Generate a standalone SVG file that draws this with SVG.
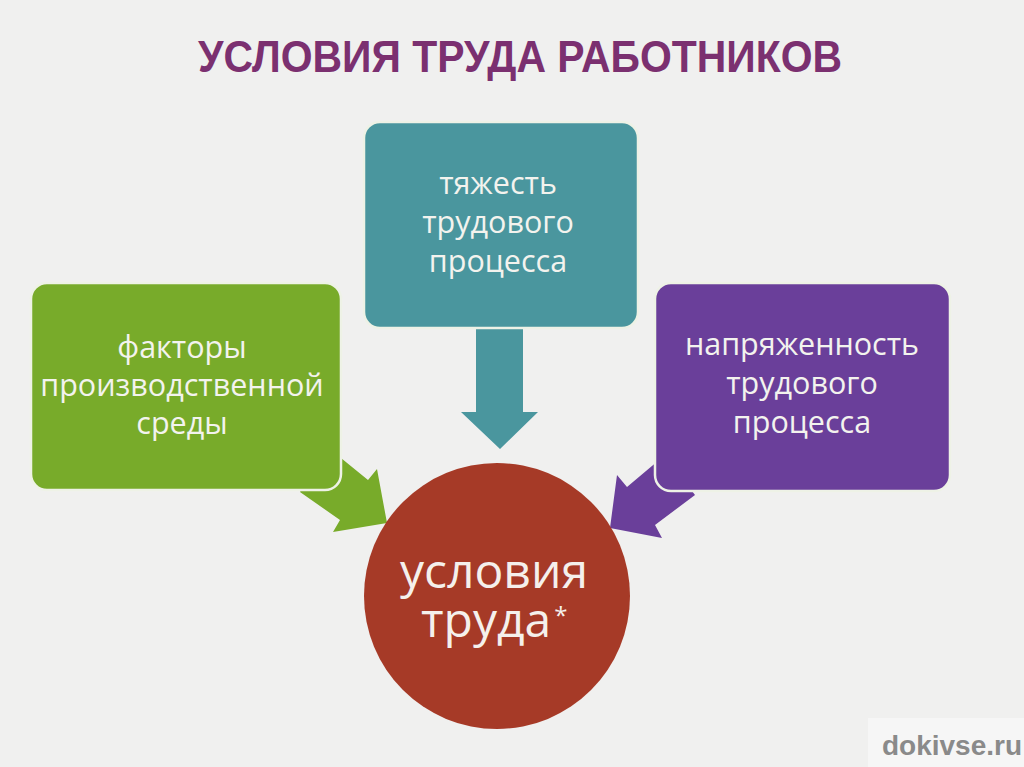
<svg xmlns="http://www.w3.org/2000/svg" width="1024" height="767" viewBox="0 0 1024 767">
<defs>
<style>
.box{stroke:#eef2e6;stroke-width:2.5}
.lbl{font-family:"Open Sans","Noto Sans",sans-serif;fill:#f3f3ee;text-anchor:middle;font-size:30.5px}
.big{font-family:"Open Sans","Noto Sans",sans-serif;fill:#f5f0ec;text-anchor:middle;font-size:48px}
</style>
</defs>
<rect width="1024" height="767" fill="#f0f0ef"/>
<rect x="868" y="718" width="156" height="49" fill="#f6f6f6"/>
<text x="520" y="72" font-family="Liberation Sans,Arial,sans-serif" font-weight="bold" font-size="44" fill="#7b3070" text-anchor="middle" textLength="644" lengthAdjust="spacingAndGlyphs">УСЛОВИЯ ТРУДА РАБОТНИКОВ</text>
<g id="connectors">
<polygon points="476,320 523,320 523,412 538,412 500,449 461,412 476,412" fill="#4a969e"/>
<polygon points="325,445 368,480 377,469 387,523 333,532 340,520 300,492" fill="#78ab2a"/>
<polygon points="665,455 627,487 617,475 610,528 662,538 655,525 695,495" fill="#6a3f9a"/>
</g>
<g id="node-tyazhest">
<rect class="box" x="364" y="122" width="274" height="206" rx="16" fill="#4a969e"/>
<text class="lbl" x="498" y="194">тяжесть</text>
<text class="lbl" x="498" y="233">трудового</text>
<text class="lbl" x="498" y="272">процесса</text>
</g>
<g id="node-faktory">
<rect class="box" x="31" y="283" width="310" height="207" rx="16" fill="#78ab2a"/>
<text class="lbl" x="182" y="358">факторы</text>
<text class="lbl" x="182" y="396">производственной</text>
<text class="lbl" x="182" y="434">среды</text>
</g>
<g id="node-napryazhennost">
<rect class="box" x="655" y="283" width="295" height="208" rx="16" fill="#6a3f9a"/>
<text class="lbl" x="802" y="355">напряженность</text>
<text class="lbl" x="802" y="394">трудового</text>
<text class="lbl" x="802" y="433">процесса</text>
</g>
<g id="node-usloviya">
<circle cx="497" cy="596" r="133" fill="#a63a27"/>
<text class="big" x="494" y="588">условия</text>
<text class="big" x="421" y="637" style="text-anchor:start">труда<tspan font-size="24" dx="3" dy="-13">*</tspan></text>
</g>
<text x="1022" y="755" font-family="Liberation Sans,Arial,sans-serif" font-weight="bold" font-size="28" fill="#8a8a8a" text-anchor="end">dokivse.ru</text>
</svg>
